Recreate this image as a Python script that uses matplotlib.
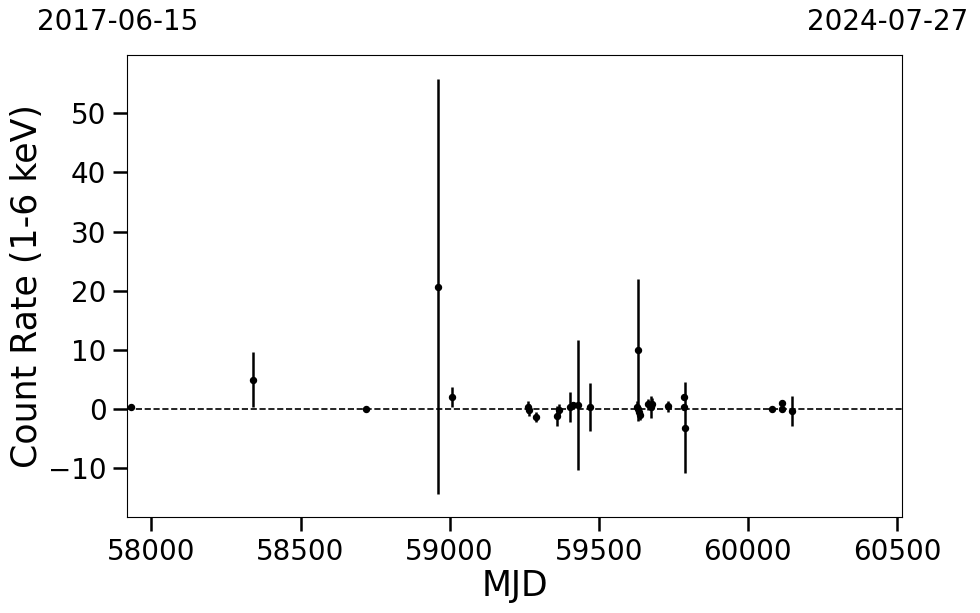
import matplotlib
matplotlib.use("Agg")
import matplotlib.pyplot as plt

mjd = [57931, 58341, 58720, 58960, 59009,
       59262, 59265, 59290, 59361, 59368, 59404, 59413, 59431, 59471,
       59630, 59632, 59633, 59635, 59637, 59664, 59675, 59679, 59733,
       59785, 59787, 59788,
       60082, 60113, 60115, 60149]
rate = [0.3, 5.0, 0.0, 20.7, 2.0,
        0.4, -0.2, -1.3, -1.2, -0.2, 0.4, 0.7, 0.7, 0.4,
        0.4, 10.0, 0.0, -0.5, -1.0, 0.8, 0.4, 0.9, 0.5,
        2.0, 0.3, -3.1,
        0.1, 0.1, 1.1, -0.3]
err = [0.3, 4.6, 0.2, 35.0, 1.7,
       1.0, 1.0, 0.9, 1.7, 1.1, 2.5, 0.5, 11.0, 4.1,
       0.9, 12.0, 0.6, 0.8, 0.9, 1.0, 1.9, 1.0, 0.9,
       0.5, 0.5, 7.7,
       0.3, 0.3, 0.4, 2.5]
xlim = (57919, 60518)
ylim = (-18.2, 59.8)
start_label = "2017-06-15"
end_label = "2024-07-27"

fig = plt.figure(figsize=(9.8, 6.13), dpi=100)
ax = fig.add_axes([0.1299, 0.1566, 0.7908, 0.7537])
ax.errorbar(mjd, rate, yerr=err, fmt='o', color='black', ms=4.3, elinewidth=1.8, capsize=0)
ax.axhline(0, color='black', ls='--', lw=1.2)
ax.set_xlim(*xlim)
ax.set_ylim(*ylim)
ax.set_xticks([58000, 58500, 59000, 59500, 60000, 60500])
ax.set_yticks([-10, 0, 10, 20, 30, 40, 50])
ax.tick_params(axis='both', which='major', labelsize=20, length=10, width=1.8, pad=5)
ax.set_xlabel("MJD", fontsize=25, labelpad=2)
ax.set_ylabel("Count Rate (1-6 keV)", fontsize=25, labelpad=3)
fig.text(118/980, 1 - 22/613, start_label, fontsize=20, ha='center', va='center')
fig.text(888/980, 1 - 22/613, end_label, fontsize=20, ha='center', va='center')
fig.savefig("out.png", dpi=100)
